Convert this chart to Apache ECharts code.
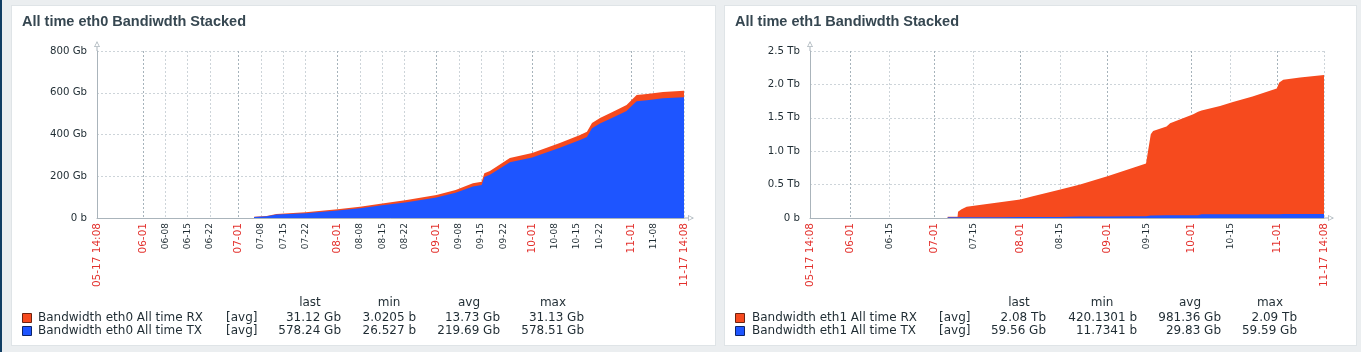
<!DOCTYPE html>
<html><head><meta charset="utf-8">
<script src="https://cdn.jsdelivr.net/npm/echarts@6/dist/echarts.min.js"></script>
<style>
html,body{margin:0;padding:0;width:1361px;height:352px;background:#ebeef0;overflow:hidden;}
.stripe{position:absolute;left:0;top:0;width:2px;height:352px;background:#113e63;}
.panel{position:absolute;top:5px;height:341px;background:#fff;border:1px solid #dfe4e7;box-sizing:border-box;}
#chart{position:absolute;left:0;top:0;width:1361px;height:352px;}
</style></head><body>
<div class="stripe"></div>
<div class="panel" style="left:11px;width:705px"></div>
<div class="panel" style="left:724px;width:633px"></div>
<div id="chart"></div>
<script>
const YEAR = 2024;
const rangeStart = '05-17 14:08';
const rangeEnd = '11-17 14:08';

// eth0 (Gb)
const eth0Dates = ['07-05 20:00','07-09 18:00','07-12 20:00','07-22','08-01','08-08','08-15','08-22 16:00','09-01','09-07','09-12 10:00','09-15 04:00','09-16','09-17 18:00','09-24','10-01','10-09 16:00','10-16','10-18 04:00','10-19 18:00','10-22 06:00','10-26 08:00','10-30 14:00','11-01 04:00','11-02 18:00','11-06','11-11','11-17 14:08'];
const eth0TX = [5,8.5,16.5,23,36,46.5,61,75.5,98,120.5,151,158,197,207.5,267.5,290,336,373.5,388,429.5,452.5,481.5,512.5,536,559.5,564,573.5,578.24];
const eth0RX = [1,1.5,2.5,4,6,7.5,9,10.5,12,13.5,15,16,17,17.5,19.5,21,23,24.5,25,25.5,26.5,27.5,28.5,29,29.5,30,30.5,31.12];

// eth1 (Gb)
const eth1Dates = ['07-05 21:00','07-09 10:00','07-09 14:00','07-10 20:00','07-12 16:00','07-18 14:00','07-24 14:00','07-31 20:00','08-05 09:00','08-14 12:00','08-15','08-22 07:00','09-01 08:00','09-10 07:00','09-14 21:00','09-16 14:00','09-17 10:00','09-22 05:00','09-23 12:00','10-01 19:00','10-03 12:00','10-04 18:00','10-11 09:00','10-16','10-23','10-31 16:00','11-01 14:00','11-03','11-09','11-17 14:08'];
const eth1TX = [12,12,12,12,12,13,13,14,14,14,22,23,24,25,26,38,39,40,40,42,42,55,56,57,57,58,58,58.5,59,59.56];
const eth1RX = [6,8,81,118,158,189,224,263,313,404,406,480,603,728,791,1215,1264,1328,1378,1511,1548,1555,1622,1681,1761,1880,1970,2009.5,2044,2080];

const eth0XTicks = ['05-17 14:08','06-01','06-08','06-15','06-22','07-01','07-08','07-15','07-22','08-01','08-08','08-15','08-22','09-01','09-08','09-15','09-22','10-01','10-08','10-15','10-22','11-01','11-08','11-17 14:08'];
const eth1XTicks = ['05-17 14:08','06-01','06-15','07-01','07-15','08-01','08-15','09-01','09-15','10-01','10-15','11-01','11-17 14:08'];
const eth0YTicks = ['0 b','200 Gb','400 Gb','600 Gb','800 Gb'];
const eth1YTicks = ['0 b','0.5 Tb','1.0 Tb','1.5 Tb','2.0 Tb','2.5 Tb'];

const titles = ['All time eth0 Bandiwdth Stacked','All time eth1 Bandiwdth Stacked'];
const statHeads = ['last','min','avg','max'];
const eth0Names = ['Bandwidth eth0 All time RX','Bandwidth eth0 All time TX'];
const eth1Names = ['Bandwidth eth1 All time RX','Bandwidth eth1 All time TX'];
const eth0RXStats = ['31.12 Gb','3.0205 b','13.73 Gb','31.13 Gb'];
const eth0TXStats = ['578.24 Gb','26.527 b','219.69 Gb','578.51 Gb'];
const eth1RXStats = ['2.08 Tb','420.1301 b','981.36 Gb','2.09 Tb'];
const eth1TXStats = ['59.56 Gb','11.7341 b','29.83 Gb','59.59 Gb'];

const RX_COLOR = '#f64a1e', TX_COLOR = '#1e55ff';
const RX_BORDER = '#6e2310', TX_BORDER = '#0d2468';
const TEXT = '#1f2c33';
const AXIS = '#aab4bb';
const GRID_LIGHT = '#cdd4d9';
const GRID_DARK = '#a6b3bb';
const FONT = '"DejaVu Sans", sans-serif';

function ts(s) {
  const parts = s.split(' ');
  const md = parts[0].split('-').map(Number);
  let h = 0, mi = 0;
  if (parts[1]) { const hm = parts[1].split(':').map(Number); h = hm[0]; mi = hm[1]; }
  return Date.UTC(YEAR, md[0] - 1, md[1], h, mi);
}
function zip(dates, vals) { return dates.map((d, i) => [ts(d), vals[i]]); }
// stacked: RX drawn on top of TX
function zipStack(dates, lower, upper) { return dates.map((d, i) => [ts(d), lower[i] + upper[i]]); }
const isRed = (l) => l.indexOf(' ') >= 0 || /-01$/.test(l);

const ARROW = 'path://M3,0L6,6L0,6Z M3,1.8L1.1,5.2L4.9,5.2Z M2.5,6L3.5,6L3.5,10L2.5,10Z';

const cfg = [
  { grid: {left: 97, top: 51, width: 587, height: 167}, ticks: eth0XTicks, yTicks: eth0YTicks, ymax: 800, yint: 200,
    dates: eth0Dates, tx: eth0TX, rx: eth0RX, names: eth0Names, rxs: eth0RXStats, txs: eth0TXStats,
    titleX: 22, sqX: 22, nameX: 38, avgX: 226, statR: [341, 416, 500, 584], headC: [310, 389, 469, 553] },
  { grid: {left: 810, top: 51, width: 514, height: 167}, ticks: eth1XTicks, yTicks: eth1YTicks, ymax: 2500, yint: 500,
    dates: eth1Dates, tx: eth1TX, rx: eth1RX, names: eth1Names, rxs: eth1RXStats, txs: eth1TXStats,
    titleX: 735, sqX: 735, nameX: 752, avgX: 939, statR: [1046, 1137, 1221, 1297], headC: [1019, 1102, 1190, 1270] }
];

const grids = [], xAxes = [], yAxes = [], series = [], graphics = [];
cfg.forEach((c, i) => {
  grids.push(c.grid);
  const tickVals = c.ticks.map(ts);
  const labelMap = {};
  c.ticks.forEach(t => { labelMap[ts(t)] = t; });
  const monthVals = c.ticks.filter(t => /-01$/.test(t)).map(ts);
  xAxes.push({
    type: 'value', gridIndex: i, min: ts(rangeStart), max: ts(rangeEnd),
    axisLine: { show: true, onZero: false, lineStyle: { color: AXIS, width: 1 }, symbol: ['none', ARROW], symbolSize: [6, 10], symbolOffset: [0, 5] },
    axisTick: { show: false, customValues: tickVals },
    axisLabel: {
      customValues: tickVals, rotate: 90, margin: 5, hideOverlap: false,
      formatter: (v) => { const l = labelMap[v] || ''; return isRed(l) ? '{r|' + l + '}' : '{k|' + l + '}'; },
      rich: { r: { color: '#e3312d', fontSize: 10.5, fontFamily: FONT }, k: { color: TEXT, fontSize: 9, fontFamily: FONT } }
    },
    splitLine: { show: true, lineStyle: { color: GRID_LIGHT, type: [2, 2], width: 1 } }
  });
  xAxes.push({
    type: 'value', gridIndex: i, min: ts(rangeStart), max: ts(rangeEnd), position: 'bottom',
    axisLine: { show: false }, axisLabel: { show: false },
    axisTick: { show: false, customValues: monthVals },
    splitLine: { show: true, lineStyle: { color: GRID_DARK, type: [2, 2], width: 1 } }
  });
  yAxes.push({
    type: 'value', gridIndex: i, min: 0, max: c.ymax, interval: c.yint,
    axisLine: { show: true, lineStyle: { color: AXIS, width: 1 }, symbol: ['none', ARROW], symbolSize: [6, 10], symbolOffset: [0, 5] },
    axisTick: { show: false },
    axisLabel: { margin: 10, color: TEXT, fontSize: 10.2, fontFamily: FONT, formatter: (v) => c.yTicks[Math.round(v / c.yint)] },
    splitLine: { show: true, lineStyle: { color: GRID_LIGHT, type: [2, 2], width: 1 } }
  });
  const base = { type: 'line', xAxisIndex: i * 2, yAxisIndex: i, showSymbol: false, symbol: 'none',
    lineStyle: { width: 0 }, animation: false, silent: true };
  series.push(Object.assign({}, base, { name: c.names[0], z: 2, data: zipStack(c.dates, c.tx, c.rx), itemStyle: { color: RX_COLOR }, areaStyle: { color: RX_COLOR, opacity: 1 } }));
  series.push(Object.assign({}, base, { name: c.names[1], z: 3, data: zip(c.dates, c.tx), itemStyle: { color: TX_COLOR }, areaStyle: { color: TX_COLOR, opacity: 1 } }));

  graphics.push({ type: 'text', x: c.titleX, y: 22, style: { text: titles[i], font: 'bold 14.5px "Liberation Sans", Arial, sans-serif', fill: '#364751', verticalAlign: 'middle', textVerticalAlign: 'middle' } });
  const rows = [[c.names[0], RX_COLOR, RX_BORDER, c.rxs, 318], [c.names[1], TX_COLOR, TX_BORDER, c.txs, 331]];
  statHeads.forEach((h, k) => graphics.push({ type: 'text', x: c.headC[k], y: 303, style: { text: h, font: '12px ' + FONT, fill: TEXT, align: 'center', textAlign: 'center', verticalAlign: 'middle', textVerticalAlign: 'middle' } }));
  rows.forEach(r => {
    graphics.push({ type: 'rect', shape: { x: c.sqX + 0.5, y: r[4] - 4.5, width: 9, height: 9 }, style: { fill: r[1], stroke: r[2], lineWidth: 1 } });
    graphics.push({ type: 'text', x: c.nameX, y: r[4], style: { text: r[0], font: '12px ' + FONT, fill: TEXT, verticalAlign: 'middle', textVerticalAlign: 'middle' } });
    graphics.push({ type: 'text', x: c.avgX, y: r[4], style: { text: '[avg]', font: '12px ' + FONT, fill: TEXT, verticalAlign: 'middle', textVerticalAlign: 'middle' } });
    r[3].forEach((s, k) => graphics.push({ type: 'text', x: c.statR[k], y: r[4], style: { text: s, font: '12px ' + FONT, fill: TEXT, align: 'right', textAlign: 'right', verticalAlign: 'middle', textVerticalAlign: 'middle' } }));
  });
});

const chart = echarts.init(document.getElementById('chart'), null, { renderer: 'canvas' });
chart.setOption({
  animation: false,
  backgroundColor: 'transparent',
  grid: grids, xAxis: xAxes, yAxis: yAxes, series: series, graphic: graphics
});
</script>
</body></html>
